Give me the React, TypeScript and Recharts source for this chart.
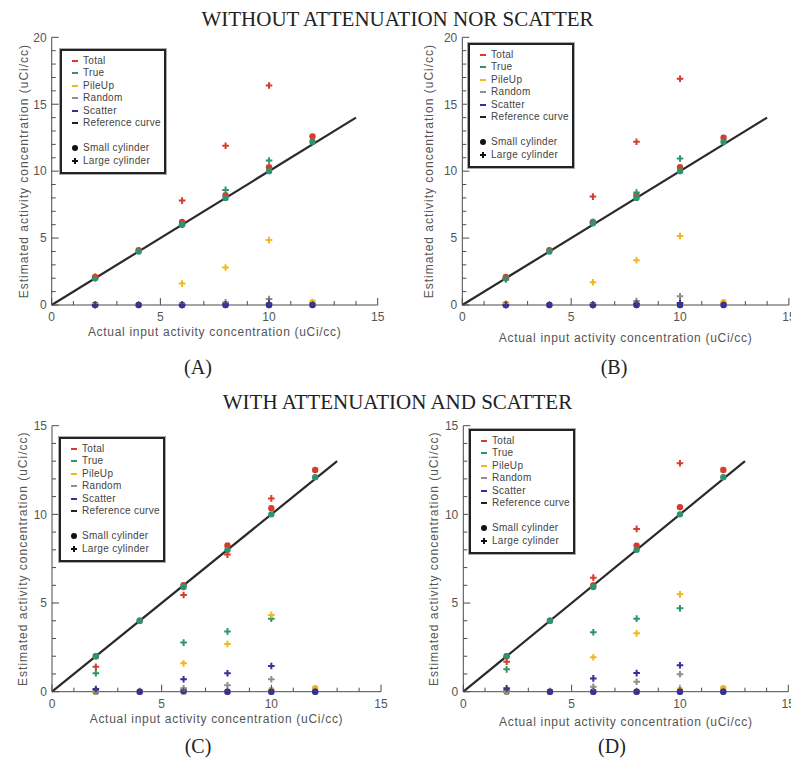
import React from 'react';
import { ScatterChart, Scatter, XAxis, YAxis, ReferenceLine } from 'recharts';

// concentrations measured for each phantom
const smallX = [2, 4, 6, 8, 10, 12];
const largeX = [2, 6, 8, 10];
const xTicks = [0, 1, 2, 3, 4, 5, 6, 7, 8, 9, 10, 11, 12, 13, 14, 15];
const yTicks20 = [0, 1, 2, 3, 4, 5, 6, 7, 8, 9, 10, 11, 12, 13, 14, 15, 16, 17, 18, 19, 20];
const yTicks15 = [0, 1, 2, 3, 4, 5, 6, 7, 8, 9, 10, 11, 12, 13, 14, 15];

const seriesNames = ['Total', 'True', 'PileUp', 'Random', 'Scatter'];

// (A) without attenuation nor scatter, first system
const aSmallTotal = [2.1, 4.1, 6.2, 8.2, 10.3, 12.6];
const aSmallTrue = [2.0, 4.0, 6.0, 8.0, 10.0, 12.2];
const aSmallPileUp = [0.05, 0, 0, 0, 0, 0.2];
const aSmallRandom = [0, 0, 0, 0, 0, 0];
const aSmallScatter = [0, 0, 0, 0, 0, 0];
const aLargeTotal = [2.1, 7.8, 11.9, 16.4];
const aLargeTrue = [2.0, 6.0, 8.6, 10.8];
const aLargePileUp = [0.05, 1.6, 2.8, 4.85];
const aLargeRandom = [0, 0.05, 0.2, 0.45];
const aLargeScatter = [0, 0, 0.05, 0.1];

// (B)
const bSmallTotal = [2.1, 4.1, 6.2, 8.2, 10.3, 12.5];
const bSmallTrue = [2.0, 4.0, 6.1, 8.0, 10.0, 12.2];
const bSmallPileUp = [0.1, 0, 0, 0, 0, 0.2];
const bSmallRandom = [0, 0, 0, 0, 0, 0];
const bSmallScatter = [0, 0, 0, 0, 0, 0];
const bLargeTotal = [2.0, 8.1, 12.2, 16.9];
const bLargeTrue = [1.9, 6.2, 8.4, 10.95];
const bLargePileUp = [0.1, 1.7, 3.35, 5.15];
const bLargeRandom = [0, 0.05, 0.3, 0.65];
const bLargeScatter = [0, 0, 0.1, 0.15];

// (C) with attenuation and scatter
const cSmallTotal = [2.0, 4.0, 6.0, 8.25, 10.35, 12.5];
const cSmallTrue = [2.0, 4.0, 5.9, 8.0, 10.0, 12.1];
const cSmallPileUp = [0, 0, 0, 0, 0.1, 0.2];
const cSmallRandom = [0, 0, 0, 0, 0, 0];
const cSmallScatter = [0.05, 0, 0.05, 0, 0, 0];
const cLargeTotal = [1.4, 5.45, 7.73, 10.9];
const cLargeTrue = [1.04, 2.77, 3.4, 4.12];
const cLargePileUp = [0, 1.6, 2.69, 4.33];
const cLargeRandom = [0, 0.19, 0.36, 0.7];
const cLargeScatter = [0.15, 0.7, 1.04, 1.45];

// (D)
const dSmallTotal = [2.0, 4.0, 6.0, 8.24, 10.4, 12.5];
const dSmallTrue = [2.0, 4.0, 5.9, 8.0, 10.0, 12.1];
const dSmallPileUp = [0, 0, 0, 0, 0.1, 0.2];
const dSmallRandom = [0, 0, 0, 0, 0, 0];
const dSmallScatter = [0.05, 0, 0, 0, 0, 0];
const dLargeTotal = [1.69, 6.43, 9.18, 12.88];
const dLargeTrue = [1.26, 3.35, 4.12, 4.7];
const dLargePileUp = [0, 1.94, 3.29, 5.49];
const dLargeRandom = [0, 0.28, 0.56, 0.98];
const dLargeScatter = [0.19, 0.75, 1.05, 1.49];

const colors = ['#d63b2b', '#2e9470', '#f3b71d', '#8f8f8f', '#33309a'];
const frameColor = '#4a4a4a';
const sansFont = '"Liberation Sans", Arial, sans-serif';
const serifFont = '"Liberation Serif", "Times New Roman", serif';
const textGray = '#555';

const pts = (xs: number[], ys: number[]) => xs.map((x, i) => ({ x, y: ys[i] }));

const Dot = (props: any) => {
  const { cx, cy, fill } = props;
  if (cx == null || cy == null) return null;
  return <circle cx={cx} cy={cy} r={3.2} fill={fill} />;
};

const Plus = (props: any) => {
  const { cx, cy, fill } = props;
  if (cx == null || cy == null) return null;
  const a = 3.3;
  return (
    <path d={`M${cx - a},${cy}H${cx + a}M${cx},${cy - a}V${cy + a}`} stroke={fill} strokeWidth={2} />
  );
};

const tickText = { fontFamily: sansFont, fontSize: 12, fill: textGray };

const BottomTick = (props: any) => {
  const { x, y, payload } = props;
  const major = payload.value % 5 === 0;
  return (
    <g>
      <line x1={x} y1={y} x2={x} y2={y - (major ? 7 : 4)} stroke={frameColor} />
      {major && (
        <text x={x} y={y + 16} textAnchor="middle" {...tickText}>
          {payload.value}
        </text>
      )}
    </g>
  );
};

const TopTick = (props: any) => {
  const { x, y, payload } = props;
  const major = payload.value % 5 === 0;
  return <line x1={x} y1={y} x2={x} y2={y + (major ? 7 : 4)} stroke={frameColor} />;
};

const LeftTick = (props: any) => {
  const { x, y, payload } = props;
  const major = payload.value % 5 === 0;
  return (
    <g>
      <line x1={x} y1={y} x2={x + (major ? 7 : 4)} y2={y} stroke={frameColor} />
      {major && (
        <text x={x - 5} y={y} dy="0.36em" textAnchor="end" {...tickText}>
          {payload.value}
        </text>
      )}
    </g>
  );
};

const RightTick = (props: any) => {
  const { x, y, payload } = props;
  const major = payload.value % 5 === 0;
  return <line x1={x} y1={y} x2={x - (major ? 7 : 4)} y2={y} stroke={frameColor} />;
};

const panels = [
  {
    id: 'A',
    left: 0, top: 30, width: 395, height: 335,
    margin: { top: 7.3, left: 11.7, right: 17.3, bottom: 20 },
    yMax: 20, yTicks: yTicks20, refEnd: 14,
    small: [aSmallTotal, aSmallTrue, aSmallPileUp, aSmallRandom, aSmallScatter],
    large: [aLargeTotal, aLargeTrue, aLargePileUp, aLargeRandom, aLargeScatter],
    legend: { left: 60, top: 49 },
    xLabelOffset: 9, yLabelOffset: 12,
    tag: { x: 198, y: 367 },
  },
  {
    id: 'B',
    left: 400, top: 30, width: 391, height: 335,
    margin: { top: 7.3, left: 22.3, right: 2.1, bottom: 20 },
    yMax: 20, yTicks: yTicks20, refEnd: 14,
    small: [bSmallTotal, bSmallTrue, bSmallPileUp, bSmallRandom, bSmallScatter],
    large: [bLargeTotal, bLargeTrue, bLargePileUp, bLargeRandom, bLargeScatter],
    legend: { left: 468, top: 43 },
    xLabelOffset: 3, yLabelOffset: 6,
    tag: { x: 614, y: 367 },
  },
  {
    id: 'C',
    left: 0, top: 418, width: 395, height: 335,
    margin: { top: 7.7, left: 12, right: 14, bottom: 21.3 },
    yMax: 15, yTicks: yTicks15, refEnd: 13,
    small: [cSmallTotal, cSmallTrue, cSmallPileUp, cSmallRandom, cSmallScatter],
    large: [cLargeTotal, cLargeTrue, cLargePileUp, cLargeRandom, cLargeScatter],
    legend: { left: 59, top: 437 },
    xLabelOffset: 9, yLabelOffset: 11,
    tag: { x: 198, y: 746 },
  },
  {
    id: 'D',
    left: 400, top: 418, width: 391, height: 335,
    margin: { top: 7.7, left: 23.3, right: 2.7, bottom: 21.3 },
    yMax: 15, yTicks: yTicks15, refEnd: 13,
    small: [dSmallTotal, dSmallTrue, dSmallPileUp, dSmallRandom, dSmallScatter],
    large: [dLargeTotal, dLargeTrue, dLargePileUp, dLargeRandom, dLargeScatter],
    legend: { left: 469, top: 429 },
    xLabelOffset: 6, yLabelOffset: 10,
    tag: { x: 612, y: 746 },
  },
];

const LegendBox = ({ left, top }: { left: number; top: number }) => {
  const rows = [
    ...seriesNames.map((name, i) => ({ name, row: i, kind: 'dash', color: colors[i] })),
    { name: 'Reference curve', row: 5, kind: 'dash', color: '#222' },
    { name: 'Small cylinder', row: 7, kind: 'dot', color: '#111' },
    { name: 'Large cylinder', row: 8, kind: 'plus', color: '#111' },
  ];
  return (
    <div
      style={{
        position: 'absolute', left, top, width: 106, height: 125, boxSizing: 'border-box',
        border: '2px solid #222', boxShadow: '0 0 0 1px #aaa', background: '#fff',
      }}
    >
      {rows.map((r) => {
        const cy = 9.7 + r.row * 12.5;
        return (
          <React.Fragment key={r.name}>
            {r.kind === 'dash' && (
              <div style={{ position: 'absolute', left: 10, top: cy - 1, width: 6, height: 2, background: r.color }} />
            )}
            {r.kind === 'dot' && (
              <div style={{ position: 'absolute', left: 10, top: cy - 3, width: 6, height: 6, borderRadius: 3, background: r.color }} />
            )}
            {r.kind === 'plus' && (
              <div style={{ position: 'absolute', left: 10, top: cy - 3, width: 6, height: 6 }}>
                <div style={{ position: 'absolute', left: 0, top: 2, width: 6, height: 2, background: r.color }} />
                <div style={{ position: 'absolute', left: 2, top: 0, width: 2, height: 6, background: r.color }} />
              </div>
            )}
            <div
              style={{
                position: 'absolute', left: 21, top: cy - 6, height: 12, lineHeight: '12px',
                fontFamily: sansFont, fontSize: 10, letterSpacing: 0.3, color: '#444', whiteSpace: 'nowrap',
              }}
            >
              {r.name}
            </div>
          </React.Fragment>
        );
      })}
    </div>
  );
};

const Panel = ({ p }: { p: any }) => (
  <div style={{ position: 'absolute', left: p.left, top: p.top }}>
    <ScatterChart width={p.width} height={p.height} margin={p.margin}>
      <XAxis
        type="number" dataKey="x" domain={[0, 15]} ticks={xTicks} interval={0}
        height={40} tickSize={0} tickMargin={0} tickLine={false} tick={<BottomTick />}
        axisLine={{ stroke: frameColor }}
        label={{
          value: 'Actual input activity concentration (uCi/cc)', position: 'insideBottom', offset: p.xLabelOffset,
          style: { fontFamily: sansFont, fontSize: 12, letterSpacing: 0.7, fill: textGray },
        }}
      />
      <XAxis
        xAxisId="top" orientation="top" type="number" dataKey="x" domain={[0, 15]} ticks={xTicks} interval={0}
        height={0} tickSize={0} tickMargin={0} tickLine={false} tick={<TopTick />} axisLine={{ stroke: frameColor }}
      />
      <YAxis
        type="number" dataKey="y" domain={[0, p.yMax]} ticks={p.yTicks} interval={0}
        width={40} tickSize={0} tickMargin={0} tickLine={false} tick={<LeftTick />}
        axisLine={{ stroke: frameColor }}
        label={{
          value: 'Estimated activity concentration (uCi/cc)', angle: -90, position: 'insideLeft', offset: p.yLabelOffset,
          style: { textAnchor: 'middle', fontFamily: sansFont, fontSize: 12, letterSpacing: 1, fill: textGray },
        }}
      />
      <YAxis
        yAxisId="right" orientation="right" type="number" dataKey="y" domain={[0, p.yMax]} ticks={p.yTicks} interval={0}
        width={0} tickSize={0} tickMargin={0} tickLine={false} tick={<RightTick />} axisLine={{ stroke: frameColor }}
      />
      <ReferenceLine
        segment={[{ x: 0, y: 0 }, { x: p.refEnd, y: p.refEnd }]}
        stroke="#2a2a2a" strokeWidth={2.2} ifOverflow="visible"
      />
      {seriesNames.map((name, i) => (
        <Scatter
          key={`s-${name}`} name={`${name} small`} data={pts(smallX, p.small[i])}
          fill={colors[i]} shape={<Dot />} isAnimationActive={false}
        />
      ))}
      {seriesNames.map((name, i) => (
        <Scatter
          key={`l-${name}`} name={`${name} large`} data={pts(largeX, p.large[i])}
          fill={colors[i]} shape={<Plus />} isAnimationActive={false}
        />
      ))}
    </ScatterChart>
  </div>
);

const Caption = ({ text, x, y, size }: { text: string; x: number; y: number; size: number }) => (
  <div
    style={{
      position: 'absolute', left: x - 300, top: y - size / 2, width: 600, textAlign: 'center',
      fontFamily: serifFont, fontSize: size, lineHeight: `${size}px`, color: '#222', whiteSpace: 'nowrap',
    }}
  >
    {text}
  </div>
);

export default function App() {
  return (
    <div style={{ position: 'absolute', left: 0, top: 0, width: 791, height: 769, background: '#fff', overflow: 'hidden' }}>
      <style>{'body{margin:0;overflow:hidden;}'}</style>
      <Caption text="WITHOUT ATTENUATION NOR SCATTER" x={397.5} y={19} size={21} />
      <Caption text="WITH ATTENUATION AND SCATTER" x={397.5} y={402} size={21} />
      {panels.map((p) => (
        <React.Fragment key={p.id}>
          <Panel p={p} />
          <LegendBox left={p.legend.left} top={p.legend.top} />
          <Caption text={`(${p.id})`} x={p.tag.x} y={p.tag.y} size={20} />
        </React.Fragment>
      ))}
    </div>
  );
}
